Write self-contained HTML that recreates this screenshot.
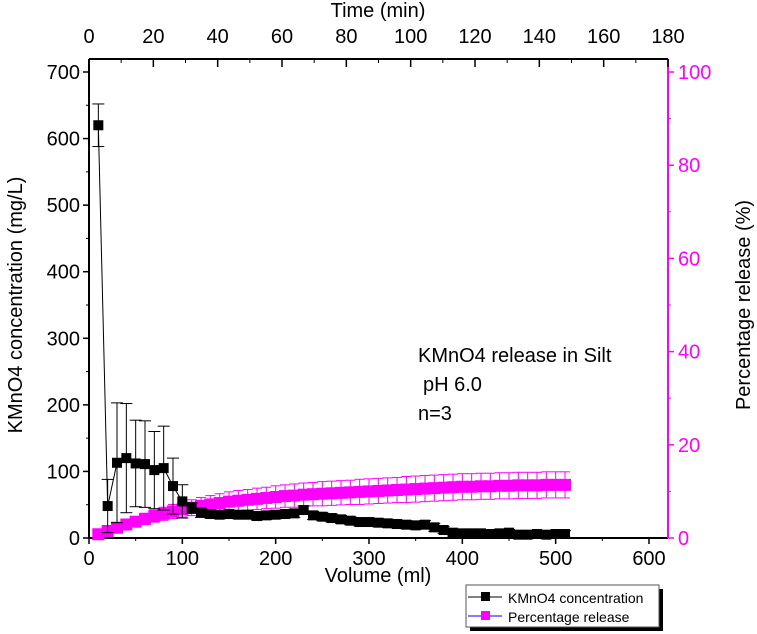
<!DOCTYPE html>
<html><head><meta charset="utf-8"><style>
body{margin:0;background:#fff;}
svg{display:block;font-family:"Liberation Sans",Arial,sans-serif;}
</style></head><body>
<svg id="chart" width="757" height="634" viewBox="0 0 757 634" xmlns="http://www.w3.org/2000/svg">
<g id="axes"></g><g id="series"></g>
<text x="418" y="362" font-size="20">KMnO4 release in Silt</text>
<text x="423" y="391" font-size="20">pH 6.0</text>
<text x="418" y="420" font-size="20">n=3</text>
<text x="378" y="582" font-size="20" text-anchor="middle">Volume (ml)</text>
<text x="378" y="17" font-size="20" text-anchor="middle">Time (min)</text>
<text transform="translate(22,305) rotate(-90)" font-size="20" text-anchor="middle">KMnO4 concentration (mg/L)</text>
<text transform="translate(750,305) rotate(-90)" font-size="20" text-anchor="middle">Percentage release (%)</text>
<g>
<rect x="470" y="589" width="193" height="42" fill="#000"/>
<rect x="466" y="585" width="193" height="42" fill="#fff" stroke="#555"/>
<line x1="468" y1="597" x2="502" y2="597" stroke="#000"/>
<rect x="481" y="592" width="9" height="9" fill="#000"/>
<text x="508" y="603" font-size="14">KMnO4 concentration</text>
<line x1="468" y1="616" x2="502" y2="616" stroke="#00f"/>
<rect x="481" y="611" width="9" height="9" fill="#f0f"/>
<text x="508" y="622" font-size="14">Percentage release</text>
</g>
</svg>
<script>
const volumes=[10,20,30,40,50,60,70,80,90,100,110,120,130,140,150,160,170,180,190,200,210,220,230,240,250,260,270,280,290,300,310,320,330,340,350,360,370,380,390,400,410,420,430,440,450,460,470,480,490,500,510];
const conc=[620,48,113,120,112,111,102,105,78,55,45,38,36,35,36,35,35,33,34,35,36,37,42,34,32,30,28,26,24,24,23,22,21,20,19,20,16,12,8,7,7,7,6,7,8,5,5,6,5,6,6];
const concErr=[32,40,90,82,65,65,58,63,42,25,8,7,6,6,6,6,6,6,6,6,6,6,6,6,6,6,6,6,6,6,6,6,6,6,6,6,6,5,5,5,5,5,5,6,5,5,5,5,5,5,5];
const pct=[0.8,1.5,2.2,2.9,3.5,4.1,4.7,5.2,5.7,6.1,6.5,6.9,7.2,7.5,7.8,8.0,8.2,8.4,8.6,8.8,9.0,9.1,9.3,9.4,9.5,9.6,9.7,9.8,9.9,10.0,10.1,10.2,10.3,10.4,10.5,10.6,10.7,10.8,10.9,11.0,11.0,11.1,11.1,11.2,11.2,11.3,11.3,11.3,11.4,11.4,11.4];
const pctErr=[0.3,0.5,0.7,0.9,1.0,1.2,1.3,1.4,1.5,1.6,1.7,1.8,1.9,2.0,2.1,2.2,2.2,2.3,2.3,2.4,2.4,2.5,2.5,2.5,2.6,2.6,2.6,2.6,2.7,2.7,2.7,2.7,2.7,2.8,2.8,2.8,2.8,2.8,2.8,2.8,2.8,2.8,2.8,2.8,2.8,2.8,2.8,2.8,2.8,2.8,2.8];
const xTicks=[0,100,200,300,400,500,600];
const yTicks=[0,100,200,300,400,500,600,700];
const rTicks=[0,20,40,60,80,100];
const tTicks=[0,20,40,60,80,100,120,140,160,180];
const NS="http://www.w3.org/2000/svg";
const L=89,R=668,T=59,B=538;
const x=v=>L+v*(649-89)/600;
const xt=t=>L+t*(R-L)/180;
const y=v=>B-v*(B-72)/700;
const yr=p=>B-p*(B-72)/100;
const ax=document.getElementById('axes'),se=document.getElementById('series');
function mk(p,tag,a){const e=document.createElementNS(NS,tag);for(const k in a)e.setAttribute(k,a[k]);p.appendChild(e);return e;}
function txt(p,xx,yy,s,fill,anchor){const e=mk(p,'text',{x:xx,y:yy,'font-size':20,'text-anchor':anchor,fill:fill});e.textContent=s;return e;}
let e;
e=mk(ax,'line',{x1:L,y1:B,x2:R,y2:B,stroke:'#000','stroke-width':2});


e=mk(ax,'line',{x1:L,y1:T,x2:R,y2:T,stroke:'#000','stroke-width':2});


e=mk(ax,'line',{x1:L,y1:T,x2:L,y2:B,stroke:'#000','stroke-width':2});


e=mk(ax,'line',{x1:R,y1:T,x2:R,y2:B,stroke:'#f0f','stroke-width':2});


xTicks.forEach(v=>{mk(ax,'line',{x1:x(v),y1:B,x2:x(v),y2:B+6,stroke:'#000','stroke-width':1.5});if(v<600)mk(ax,'line',{x1:x(v+50),y1:B,x2:x(v+50),y2:B+3,stroke:'#000'});
 e=txt(ax,x(v),B+27,String(v),'#000','middle');
 
 });
yTicks.forEach(v=>{mk(ax,'line',{x1:L-6,y1:y(v),x2:L,y2:y(v),stroke:'#000','stroke-width':1.5});if(v<700)mk(ax,'line',{x1:L-3,y1:y(v+50),x2:L,y2:y(v+50),stroke:'#000'});
 e=txt(ax,L-9,y(v)+7,String(v),'#000','end');
 
 });
rTicks.forEach(v=>{mk(ax,'line',{x1:R,y1:yr(v),x2:R+6,y2:yr(v),stroke:'#f0f','stroke-width':1.5});if(v<100)mk(ax,'line',{x1:R,y1:yr(v+10),x2:R+3,y2:yr(v+10),stroke:'#f0f'});
 e=txt(ax,R+10,yr(v)+7,String(v),'#f0f','start');
 
 });
tTicks.forEach(v=>{mk(ax,'line',{x1:xt(v),y1:T,x2:xt(v),y2:T+8,stroke:'#000','stroke-width':1.5});if(v<180)mk(ax,'line',{x1:xt(v+10),y1:T,x2:xt(v+10),y2:T+4,stroke:'#000'});
 e=txt(ax,xt(v),T-16,String(v),'#000','middle');
 
 });
// percentage series
volumes.forEach((v,i)=>{const cx=x(v),hi=yr(pct[i]+pctErr[i]),lo=yr(pct[i]-pctErr[i]);
 mk(se,'line',{x1:cx,y1:hi,x2:cx,y2:lo,stroke:'#f0f'});
 mk(se,'line',{x1:cx-5,y1:hi,x2:cx+5,y2:hi,stroke:'#f0f'});
 mk(se,'line',{x1:cx-5,y1:lo,x2:cx+5,y2:lo,stroke:'#f0f'});});
volumes.forEach((v,i)=>{e=mk(se,'rect',{x:x(v)-6,y:yr(pct[i])-6,width:12,height:12,fill:'#f0f'});
 
 });
// concentration series
volumes.forEach((v,i)=>{const cx=x(v),hi=y(conc[i]+concErr[i]),lo=y(Math.max(0,conc[i]-concErr[i]));
 mk(se,'line',{x1:cx,y1:hi,x2:cx,y2:lo,stroke:'#000'});
 mk(se,'line',{x1:cx-6,y1:hi,x2:cx+6,y2:hi,stroke:'#000'});
 mk(se,'line',{x1:cx-6,y1:lo,x2:cx+6,y2:lo,stroke:'#000'});});
mk(se,'polyline',{points:volumes.map((v,i)=>x(v)+','+y(conc[i])).join(' '),fill:'none',stroke:'#000'});
volumes.forEach((v,i)=>{e=mk(se,'rect',{x:x(v)-5,y:y(conc[i])-5,width:10,height:10,fill:'#000'});
 
 });
</script>
</body></html>
